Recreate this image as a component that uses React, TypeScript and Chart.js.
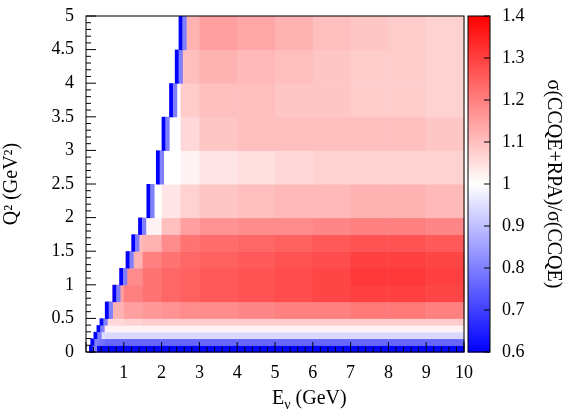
import { useEffect, useRef } from 'react'
import { Chart, registerables, Plugin } from 'chart.js'

Chart.register(...registerables)

// Q² bin edges (GeV²) and Eν column edges (GeV)
const q2Edges = [0, 0.1, 0.2, 0.3, 0.4, 0.5, 0.75, 1, 1.25, 1.5, 1.75, 2, 2.5, 3, 3.5, 4, 4.5, 5]
const eEdges = [0, 0.5, 1, 1.5, 2, 2.5, 3, 4, 5, 6, 7, 8, 9, 10]
// kinematic threshold per Q² row
const eMin = [0.08, 0.12, 0.2, 0.28, 0.36, 0.5, 0.7, 0.88, 1.05, 1.2, 1.38, 1.6, 1.85, 2.0, 2.2, 2.35, 2.45]
// ratio values near the threshold edge (two thin cells)
const edgeValues = [0.6, 0.8]
// ratio per row (bottom to top) per column
const ratio: number[][] = [
  [0.6, 0.6, 0.6, 0.6, 0.6, 0.6, 0.6, 0.6, 0.6, 0.6, 0.6, 0.6, 0.6],
  [0.78, 0.76, 0.76, 0.76, 0.76, 0.76, 0.76, 0.76, 0.76, 0.76, 0.76, 0.76, 0.76],
  [0.95, 0.94, 0.94, 0.94, 0.94, 0.94, 0.94, 0.94, 0.94, 0.94, 0.94, 0.94, 0.94],
  [1.02, 1.02, 1.02, 1.02, 1.02, 1.02, 1.02, 1.02, 1.02, 1.02, 1.02, 1.02, 1.02],
  [1.05, 1.06, 1.07, 1.08, 1.08, 1.08, 1.08, 1.08, 1.08, 1.08, 1.08, 1.08, 1.08],
  [1.1, 1.12, 1.15, 1.16, 1.17, 1.18, 1.18, 1.19, 1.2, 1.2, 1.21, 1.21, 1.2],
  [1.1, 1.15, 1.2, 1.22, 1.24, 1.25, 1.26, 1.27, 1.28, 1.29, 1.3, 1.3, 1.29],
  [1.1, 1.1, 1.18, 1.22, 1.24, 1.25, 1.26, 1.27, 1.28, 1.29, 1.31, 1.31, 1.3],
  [1.1, 1.1, 1.12, 1.2, 1.22, 1.24, 1.25, 1.26, 1.27, 1.28, 1.3, 1.3, 1.29],
  [1.1, 1.1, 1.1, 1.12, 1.18, 1.22, 1.23, 1.24, 1.25, 1.26, 1.27, 1.27, 1.26],
  [1.1, 1.1, 1.1, 1.02, 1.1, 1.15, 1.17, 1.18, 1.18, 1.19, 1.2, 1.2, 1.19],
  [1.0, 1.0, 1.0, 1.0, 1.04, 1.07, 1.09, 1.1, 1.11, 1.11, 1.12, 1.12, 1.11],
  [1.0, 1.0, 1.0, 1.0, 1.0, 1.02, 1.04, 1.05, 1.06, 1.07, 1.07, 1.07, 1.07],
  [1.0, 1.0, 1.0, 1.0, 1.0, 1.06, 1.09, 1.1, 1.1, 1.1, 1.1, 1.1, 1.09],
  [1.0, 1.0, 1.0, 1.0, 1.0, 1.08, 1.1, 1.1, 1.09, 1.09, 1.08, 1.08, 1.07],
  [1.0, 1.0, 1.0, 1.0, 1.0, 1.1, 1.12, 1.11, 1.1, 1.09, 1.08, 1.08, 1.07],
  [1.0, 1.0, 1.0, 1.0, 1.0, 1.12, 1.15, 1.14, 1.12, 1.1, 1.09, 1.08, 1.07],
]
const zMin = 0.6
const zMax = 1.4
const zTicks = [0.6, 0.7, 0.8, 0.9, 1, 1.1, 1.2, 1.3, 1.4]

function color(v: number) {
  const t = Math.max(0, Math.min(1, (v - zMin) / (zMax - zMin)))
  if (t < 0.5) {
    const k = Math.round(255 * (t / 0.5))
    return `rgb(${k},${k},255)`
  }
  const k = Math.round(255 * (1 - (t - 0.5) / 0.5))
  return `rgb(255,${k},${k})`
}

const FONT = '"Liberation Serif", "DejaVu Serif", serif'

const heatPlugin: Plugin = {
  id: 'heat',
  beforeDatasetsDraw(chart) {
    const { ctx, scales, chartArea } = chart
    const x = scales.x, y = scales.y
    ctx.save()
    ctx.fillStyle = '#fff'
    ctx.fillRect(chartArea.left, chartArea.top, chartArea.width, chartArea.height)
    for (let r = 0; r < ratio.length; r++) {
      const y0 = y.getPixelForValue(q2Edges[r]), y1 = y.getPixelForValue(q2Edges[r + 1])
      const start = eMin[r]
      for (let c = 0; c < ratio[r].length; c++) {
        const a = Math.max(eEdges[c], start), b = eEdges[c + 1]
        if (b <= a) continue
        const px0 = x.getPixelForValue(a), px1 = x.getPixelForValue(b)
        ctx.fillStyle = color(ratio[r][c])
        ctx.fillRect(px0, y1, px1 - px0 + 0.5, y0 - y1 + 0.5)
      }
      edgeValues.forEach((v, i) => {
        const px0 = x.getPixelForValue(start + i * 0.1), px1 = x.getPixelForValue(start + (i + 1) * 0.1)
        ctx.fillStyle = color(v)
        ctx.fillRect(px0, y1, px1 - px0 + 0.5, y0 - y1 + 0.5)
      })
    }
    // colour bar
    const z = scales.z
    const bx = chartArea.right + 4, bw = 22
    for (let p = z.top; p < z.bottom; p++) {
      ctx.fillStyle = color(z.getValueForPixel(p + 0.5) as number)
      ctx.fillRect(bx, p, bw, 1.5)
    }
    ctx.strokeStyle = '#000'
    ctx.lineWidth = 1
    ctx.strokeRect(bx, z.top, bw, z.bottom - z.top)
    zTicks.forEach(t => {
      const p = z.getPixelForValue(t)
      ctx.beginPath(); ctx.moveTo(bx + bw - 6, p); ctx.lineTo(bx + bw, p); ctx.stroke()
    })
    ctx.restore()
  },
  afterDraw(chart) {
    const { ctx, scales, chartArea } = chart
    const x = scales.x, y = scales.y
    ctx.save()
    ctx.strokeStyle = '#000'
    ctx.lineWidth = 1
    ctx.strokeRect(chartArea.left, chartArea.top, chartArea.width, chartArea.height)
    for (let e = 0; e <= 10; e += 0.2) {
      const p = x.getPixelForValue(e)
      const major = Math.abs(e - Math.round(e)) < 1e-6
      const len = major ? 10 : 5
      ctx.beginPath(); ctx.moveTo(p, chartArea.bottom); ctx.lineTo(p, chartArea.bottom - len); ctx.stroke()
    }
    for (let q = 0; q <= 5; q += 0.1) {
      const p = y.getPixelForValue(q)
      const major = Math.abs(q * 2 - Math.round(q * 2)) < 1e-6
      const len = major ? 10 : 5
      ctx.beginPath(); ctx.moveTo(chartArea.left, p); ctx.lineTo(chartArea.left + len, p); ctx.stroke()
    }
    // x title with subscript
    ctx.fillStyle = '#000'
    ctx.textBaseline = 'alphabetic'
    ctx.font = `20px ${FONT}`
    const tx = 272, ty = 404
    ctx.fillText('E', tx, ty)
    const w = ctx.measureText('E').width
    ctx.font = `14px ${FONT}`
    ctx.fillText('ν', tx + w, ty + 5)
    const w2 = ctx.measureText('ν').width
    ctx.font = `20px ${FONT}`
    ctx.fillText(' (GeV)', tx + w + w2, ty)
    ctx.restore()
  },
}

export default function App() {
  const ref = useRef<HTMLCanvasElement>(null)
  useEffect(() => {
    if (!ref.current) return
    const chart = new Chart(ref.current, {
      type: 'scatter',
      data: { datasets: [{ data: [] }] },
      options: {
        responsive: false,
        animation: false,
        layout: { padding: { top: 16 } },
        plugins: { legend: { display: false }, tooltip: { enabled: false } },
        scales: {
          x: {
            type: 'linear', min: 0, max: 10,
            grid: { display: false },
            border: { display: false },
            afterBuildTicks: s => { s.ticks = [1, 2, 3, 4, 5, 6, 7, 8, 9, 10].map(v => ({ value: v })) },
            ticks: { font: { family: FONT, size: 18 }, color: '#000', maxRotation: 0, padding: 2 },
            afterFit: s => { s.height = 67; s.paddingLeft = 0; s.paddingRight = 0 },
          },
          y: {
            type: 'linear', min: 0, max: 5,
            grid: { display: false },
            border: { display: false },
            ticks: { stepSize: 0.5, font: { family: FONT, size: 18 }, color: '#000', padding: 4, callback: v => String(Number(v)) },
            title: { display: true, text: 'Q² (GeV²)', font: { family: FONT, size: 20 }, color: '#000', padding: 0 },
            afterFit: s => { s.width = 86; s.paddingTop = 0; s.paddingBottom = 0 },
          },
          z: {
            type: 'linear', position: 'right', min: zMin, max: zMax,
            grid: { display: false },
            border: { display: false },
            afterBuildTicks: s => { s.ticks = zTicks.map(v => ({ value: v })) },
            ticks: { font: { family: FONT, size: 18 }, color: '#000', padding: 30, callback: v => String(Number(v)) },
            title: { display: true, text: 'σ(CCQE+RPA)/σ(CCQE)', font: { family: FONT, size: 20 }, color: '#000', padding: 2 },
            afterFit: s => { s.width = 103; s.paddingTop = 0; s.paddingBottom = 0 },
          },
        },
      },
      plugins: [heatPlugin],
    })
    return () => chart.destroy()
  }, [])
  return (
    <div style={{ position: 'absolute', left: 0, top: 0, width: 567, height: 419, background: '#fff' }}>
      <canvas ref={ref} width={567} height={419} />
    </div>
  )
}
